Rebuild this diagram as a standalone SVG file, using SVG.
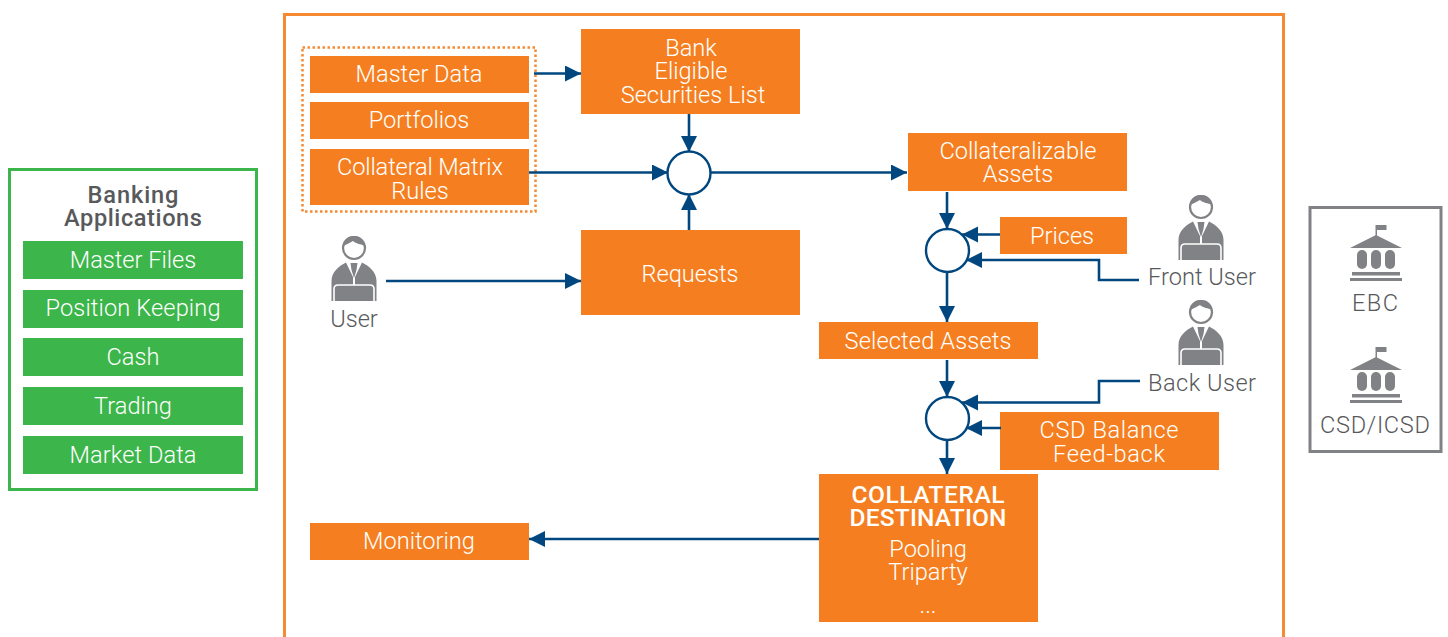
<svg xmlns="http://www.w3.org/2000/svg" xmlns:xlink="http://www.w3.org/1999/xlink" width="1448" height="637" viewBox="0 0 1448 637">
<style>
text{font-family:"Roboto","Liberation Sans",sans-serif;font-weight:300;font-size:23.6px;text-anchor:middle}
.w{fill:#fff}.g{fill:#58595b}
.b{font-weight:500;font-size:24.5px}
.o{fill:#f57f20}.gr{fill:#3cb54a}
.c{fill:none;stroke:#00477f;stroke-width:2.6}
.n{fill:#fff;stroke:#00477f;stroke-width:2.4}
</style>
<defs>
<marker id="a" markerUnits="userSpaceOnUse" markerWidth="17" markerHeight="18" refX="16" refY="8" orient="auto"><path d="M0 0L16 8L0 16Z" fill="#00477f"/></marker>
<g id="person">
<circle cx="0" cy="0" r="11" fill="#fff" stroke="#808285" stroke-width="2.2"/>
<path d="M-11 -2C-7 -4 -4 -5 -1 -7C2 -4 7 -4 11 -2C10 -9 6 -12 0 -12C-6 -12 -10 -9 -11 -2Z" fill="#808285"/>
<path d="M-22.500 53V33C-22.500 24 -15 18 -8 14.500L-1 29V39H1V29L8 14.500C15 18 22.500 24 22.500 33V53Z" fill="#808285"/>
<path d="M-3.500 15H3.500L2.500 22L0 30L-2.500 22Z" fill="#808285"/>
<path d="M-20 53V41Q-20 37 -16 37H16Q20 37 20 41V53" fill="#808285" stroke="#fff" stroke-width="1.600"/>
</g>
<g id="bank" fill="#808285">
<path d="M-0.500 0H1V11H-0.500Z"/><rect x="0.500" y="0" width="10" height="5"/>
<path d="M0 10L26 23H-26Z"/>
<rect x="-19" y="25" width="10" height="19" rx="5"/><rect x="-5" y="25" width="10" height="19" rx="5"/><rect x="9" y="25" width="10" height="19" rx="5"/>
<rect x="-24" y="47" width="48" height="3.500"/><rect x="-26" y="53" width="52" height="3"/>
</g>
</defs>
<g id="frame"><path d="M284.500 637V14.500H1283.500V637" fill="none" stroke="#f58a33" stroke-width="3"/></g>
<g id="banking-applications">
<rect x="9.500" y="169.500" width="247" height="320" fill="#fff" stroke="#3cb54a" stroke-width="3"/>
<text class="g" style="font-weight:500"><tspan x="133" y="203" textLength="91">Banking</tspan><tspan x="133" y="226" textLength="138">Applications</tspan></text>
<rect class="gr" x="23" y="241" width="220" height="38"/><text class="w" x="133" y="268">Master Files</text>
<rect class="gr" x="23" y="290" width="220" height="38"/><text class="w" x="133" y="316" textLength="175">Position Keeping</text>
<rect class="gr" x="23" y="338" width="220" height="38"/><text class="w" x="133" y="365">Cash</text>
<rect class="gr" x="23" y="387" width="220" height="38"/><text class="w" x="133" y="414">Trading</text>
<rect class="gr" x="23" y="436" width="220" height="38"/><text class="w" x="133" y="463" textLength="127">Market Data</text>
</g>
<g id="source-group"><rect x="302.500" y="47.500" width="233" height="164" fill="none" stroke="#f58a33" stroke-width="2.500" stroke-dasharray="2.500 2.500"/></g>
<g id="master-data"><rect class="o" x="310" y="56" width="219" height="37"/><text class="w" x="419" y="82">Master Data</text></g>
<g id="portfolios"><rect class="o" x="310" y="102" width="219" height="37"/><text class="w" x="419" y="128">Portfolios</text></g>
<g id="matrix-rules"><rect class="o" x="310" y="149" width="219" height="56"/><text class="w"><tspan x="420" y="175" textLength="166">Collateral Matrix</tspan><tspan x="420" y="199">Rules</tspan></text></g>
<g id="eligible-list"><rect class="o" x="581" y="29" width="219" height="85"/><text class="w"><tspan x="691" y="56">Bank</tspan><tspan x="691" y="79">Eligible</tspan><tspan x="693" y="103">Securities List</tspan></text></g>
<g id="requests"><rect class="o" x="581" y="230" width="219" height="85"/><text class="w" x="690" y="282">Requests</text></g>
<g id="collateralizable"><rect class="o" x="908" y="133" width="219" height="58"/><text class="w"><tspan x="1018" y="159">Collateralizable</tspan><tspan x="1018" y="182">Assets</tspan></text></g>
<g id="prices"><rect class="o" x="1000" y="217" width="127" height="37"/><text class="w" x="1062" y="244">Prices</text></g>
<g id="selected"><rect class="o" x="819" y="322" width="219" height="37"/><text class="w" x="928" y="349" textLength="167">Selected Assets</text></g>
<g id="csd-balance"><rect class="o" x="1000" y="412" width="219" height="58"/><text class="w"><tspan x="1109" y="438" textLength="139">CSD Balance</tspan><tspan x="1109" y="462" textLength="112">Feed-back</tspan></text></g>
<g id="destination"><rect class="o" x="819" y="474" width="219" height="148"/><text class="w b"><tspan x="928" y="503" textLength="153">COLLATERAL</tspan><tspan x="928" y="526" textLength="157">DESTINATION</tspan></text><text class="w"><tspan x="928" y="557">Pooling</tspan><tspan x="928" y="580">Triparty</tspan></text><text class="w" x="928" y="613">...</text></g>
<g id="monitoring"><rect class="o" x="310" y="523" width="219" height="37"/><text class="w" x="419" y="549">Monitoring</text></g>
<g id="user"><use xlink:href="#person" href="#person" x="354" y="248"/><text class="g" x="354" y="327">User</text></g>
<g id="front-user"><use xlink:href="#person" href="#person" x="1201" y="207"/><text class="g" x="1202" y="285" textLength="108">Front User</text></g>
<g id="back-user"><use xlink:href="#person" href="#person" x="1201" y="312"/><text class="g" x="1202" y="391" textLength="108">Back User</text></g>
<g id="connectors">
<path class="c" marker-end="url(#a)" d="M534 73.500H581"/>
<path class="c" marker-end="url(#a)" d="M689 114V152"/>
<path class="c" marker-end="url(#a)" d="M529 172.500H668"/>
<path class="c" marker-end="url(#a)" d="M689 230V194"/>
<path class="c" marker-end="url(#a)" d="M710 172.500H907"/>
<path class="c" marker-end="url(#a)" d="M386 281H581"/>
<path class="c" marker-end="url(#a)" d="M947 192V229"/>
<path class="c" marker-end="url(#a)" d="M1000 234.500H962"/>
<path class="c" marker-end="url(#a)" d="M1139 280H1099V260H966"/>
<path class="c" marker-end="url(#a)" d="M947 272V322"/>
<path class="c" marker-end="url(#a)" d="M947 360V397"/>
<path class="c" marker-end="url(#a)" d="M1140 381H1099V402.500H962"/>
<path class="c" marker-end="url(#a)" d="M1001 428H966"/>
<path class="c" marker-end="url(#a)" d="M947 441V474"/>
<path class="c" marker-end="url(#a)" d="M819 539H529"/>
</g>
<g id="merge-1"><circle class="n" cx="689" cy="173" r="21.500"/></g>
<g id="merge-2"><circle class="n" cx="947.500" cy="250.500" r="21.500"/></g>
<g id="merge-3"><circle class="n" cx="947.500" cy="418.500" r="21.500"/></g>
<g id="externals">
<rect x="1310" y="207.500" width="131" height="244" fill="#fff" stroke="#808285" stroke-width="3"/>
<g id="ebc"><use xlink:href="#bank" href="#bank" x="1376" y="225"/><text class="g" x="1375" y="311" textLength="46">EBC</text></g>
<g id="csd-icsd"><use xlink:href="#bank" href="#bank" x="1376" y="347"/><text class="g" x="1375" y="433" textLength="110">CSD/ICSD</text></g>
</g>
</svg>
